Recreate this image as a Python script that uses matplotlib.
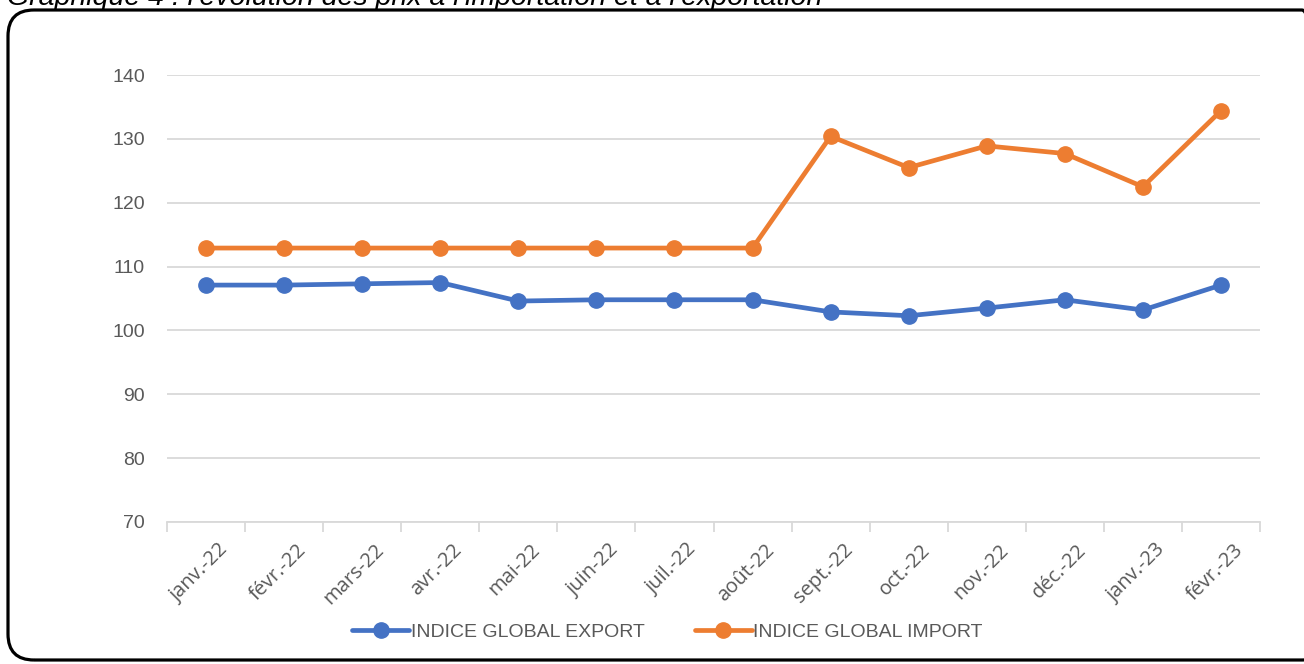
import matplotlib
matplotlib.use("Agg")
import matplotlib.pyplot as plt
from matplotlib.patches import FancyBboxPatch
from matplotlib.transforms import IdentityTransform, ScaledTranslation

plt.rcParams['font.family'] = ['Liberation Sans', 'DejaVu Sans']

months = ["janv.-22", "févr.-22", "mars-22", "avr.-22", "mai-22", "juin-22", "juil.-22",
          "août-22", "sept.-22", "oct.-22", "nov.-22", "déc.-22", "janv.-23", "févr.-23"]
export_vals = [107.1, 107.1, 107.3, 107.5, 104.6, 104.8, 104.8, 104.8, 102.9, 102.3,
               103.5, 104.8, 103.2, 107.1]
import_vals = [112.9, 112.9, 112.9, 112.9, 112.9, 112.9, 112.9, 112.9, 130.4, 125.5,
               128.9, 127.7, 122.5, 134.4]
yticks = [70, 80, 90, 100, 110, 120, 130, 140]
title = "Graphique 4 : l'évolution des prix à l'importation et à l'exportation"

W, H = 1304, 664
fig = plt.figure(figsize=(W / 100, H / 100), dpi=100)
ax = fig.add_axes([167 / W, 1 - 522 / H, (1260 - 167) / W, (522 - 75) / H])

x = list(range(len(months)))
ax.plot(x, export_vals, color="#4472C4", lw=3.4, marker="o", ms=11,
        label="INDICE GLOBAL EXPORT", solid_capstyle="round")
ax.plot(x, import_vals, color="#ED7D31", lw=3.4, marker="o", ms=11,
        label="INDICE GLOBAL IMPORT", solid_capstyle="round")

ax.set_xlim(-0.5, len(months) - 0.5)
ax.set_ylim(70, 140)
ax.set_yticks(yticks)
ax.yaxis.grid(True, color="#D9D9D9", lw=1.3)
ax.set_axisbelow(True)
for s in ["top", "right", "left"]:
    ax.spines[s].set_visible(False)
ax.spines["bottom"].set_color("#D9D9D9")
ax.spines["bottom"].set_linewidth(1.3)
ax.tick_params(axis="y", length=0, pad=16, labelsize=14, labelcolor="#595959")

ax.set_xticks(x)
ax.set_xticklabels(months, rotation=45, ha="right", va="top", rotation_mode="anchor",
                   fontsize=14.5, color="#595959", family=["Open Sans", "DejaVu Sans"])
ax.tick_params(axis="x", which="major", length=0, pad=13)
off = ScaledTranslation(12 / 100, 0, fig.dpi_scale_trans)
for lab in ax.get_xticklabels():
    lab.set_transform(lab.get_transform() + off)
ax.set_xticks([i - 0.5 for i in range(len(months) + 1)], minor=True)
ax.tick_params(axis="x", which="minor", length=7, width=1.3, color="#D9D9D9", direction="out")

leg = fig.legend(loc="center", bbox_to_anchor=(0.512, 1 - 632 / H), ncol=2, frameon=False,
                 fontsize=14, handlelength=2.9, handletextpad=0.1, columnspacing=2.6,
                 labelcolor="#595959")

box = FancyBboxPatch((8, 4), 1320, 650, boxstyle="round,pad=0,rounding_size=26",
                     transform=IdentityTransform(), fill=False, edgecolor="black", lw=2.3)
fig.add_artist(box)

fig.text(7 / W, 1 - 5 / H, title, fontsize=20.5, style="italic", ha="left", va="baseline",
         color="black")

fig.savefig("out.png", dpi=100)
